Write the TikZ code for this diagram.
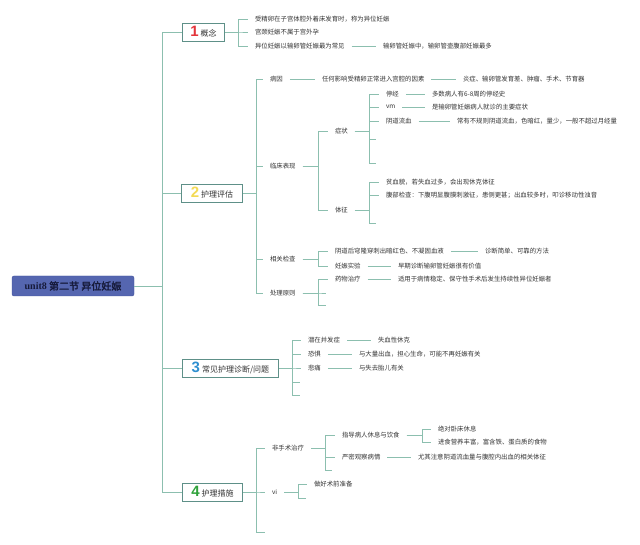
\documentclass[tikz,border=0pt]{standalone}
\usepackage{fontspec}
\setmainfont{Noto Sans CJK SC}[AutoFakeBold=2]
\newfontfamily\numfont{Liberation Sans}
\newfontfamily\rootlat{Liberation Serif}
\definecolor{lc}{HTML}{8CBFAF}
\definecolor{bc}{HTML}{5E9088}
\definecolor{tc}{HTML}{333333}
\definecolor{rootfill}{HTML}{5566B0}
\definecolor{rootdraw}{HTML}{3F4F9A}
\definecolor{roottext}{HTML}{161A3A}
\definecolor{numA}{HTML}{E3353B}
\definecolor{numB}{HTML}{F3DA55}
\definecolor{numC}{HTML}{2E8FD0}
\definecolor{numD}{HTML}{2FA23A}
\begin{document}
\begin{tikzpicture}[x=1pt,y=-1pt,
  conn/.style={draw=lc, line width=0.8pt},
  brk/.style={to path={-- (\tikztostart -| #1) |- (\tikztotarget)}},
  leaf/.style={anchor=west, inner sep=0pt, outer xsep=7pt, outer ysep=0pt, text=tc, font=\fontsize{6.4}{7}\selectfont},
  sec/.style={draw=bc, line width=0.9pt, fill=white, anchor=west, minimum height=18pt, inner xsep=4pt, inner ysep=0pt, text=tc, font=\fontsize{8}{9}\selectfont},
  num/.style={}]
\useasboundingbox (0,0) rectangle (640,545);

% bracket columns
\coordinate (t0) at (162,0);
\coordinate (b1) at (238,0);
\coordinate (b2) at (256,0);
\coordinate (b2a) at (318,0);
\coordinate (b2b) at (369,0);
\coordinate (b3) at (292,0);
\coordinate (b4a) at (325,0);
\coordinate (b4b) at (422,0);
\coordinate (b4c) at (298,0);

% root
\node[draw=rootdraw, fill=rootfill, rounded corners=2pt, minimum width=122pt, minimum height=20pt, inner sep=0pt, text=roottext, font=\fontsize{10}{11}\selectfont] (root) at (73,286) {{\rootlat\bfseries unit8} {\bfseries 第二节 异位妊娠}};

% sections
\node[sec, minimum width=42pt] (s1) at (182,32) {{\numfont\bfseries\fontsize{15}{15}\selectfont\color{numA}1}\kern2pt 概念};
\node[sec, minimum width=61pt] (s2) at (181,193) {{\numfont\bfseries\fontsize{15}{15}\selectfont\color{numB}2}\kern2pt 护理评估};
\node[sec, minimum width=96pt] (s3) at (182,368) {{\numfont\bfseries\fontsize{15}{15}\selectfont\color{numC}3}\kern2pt 常见护理诊断/问题};
\node[sec, minimum width=60pt] (s4) at (182,492) {{\numfont\bfseries\fontsize{15}{15}\selectfont\color{numD}4}\kern2pt 护理措施};

\draw[conn] (root.east) to[brk=t0] (s1.west);
\draw[conn] (root.east) to[brk=t0] (s2.west);
\draw[conn] (root.east) to[brk=t0] (s3.west);
\draw[conn] (root.east) to[brk=t0] (s4.west);

% ---- section 1
\node[leaf] (a1) at (248,19) {受精卵在子宫体腔外着床发育时，称为异位妊娠};
\node[leaf] (a2) at (248,32) {宫颈妊娠不属于宫外孕};
\node[leaf] (a3) at (248,46) {异位妊娠以输卵管妊娠最为常见};
\node[leaf] (a3x) at (376,46) {输卵管妊娠中，输卵管壶腹部妊娠最多};
\draw[conn] (s1.east) to[brk=b1] (a1.west);
\draw[conn] (s1.east) to[brk=b1] (a2.west);
\draw[conn] (s1.east) to[brk=b1] (a3.west);
\draw[conn] (a3.east) -- (a3x.west);

% ---- section 2
\node[leaf] (c1) at (263,79) {病因};
\node[leaf] (c2) at (263,166) {临床表现};
\node[leaf] (c3) at (263,259) {相关检查};
\node[leaf] (c4) at (263,293) {处理原则};
\draw[conn] (s2.east) to[brk=b2] (c1.west);
\draw[conn] (s2.east) to[brk=b2] (c2.west);
\draw[conn] (s2.east) to[brk=b2] (c3.west);
\draw[conn] (s2.east) to[brk=b2] (c4.west);

\node[leaf] (c1a) at (315,79) {任何影响受精卵正常进入宫腔的因素};
\node[leaf] (c1b) at (456,79) {炎症、输卵管发育差、肿瘤、手术、节育器};
\draw[conn] (c1.east) -- (c1a.west);
\draw[conn] (c1a.east) -- (c1b.west);

% clinical
\node[leaf] (d1) at (328,131) {症状};
\node[leaf] (d2) at (328,210) {体征};
\draw[conn] (c2.east) to[brk=b2a] (d1.west);
\draw[conn] (c2.east) to[brk=b2a] (d2.west);

\node[leaf] (e1) at (379,94) {停经};
\node[leaf] (e2) at (379,107) {vm};
\node[leaf] (e3) at (379,121) {阴道流血};
\coordinate (e4) at (376,139);
\coordinate (e5) at (376,163);
\draw[conn] (d1.east) to[brk=b2b] (e1.west);
\draw[conn] (d1.east) to[brk=b2b] (e2.west);
\draw[conn] (d1.east) to[brk=b2b] (e3.west);
\draw[conn] (d1.east) to[brk=b2b] (e4);
\draw[conn] (d1.east) to[brk=b2b] (e5);
\node[leaf] (e1a) at (425,94) {多数病人有6-8周的停经史};
\node[leaf] (e2a) at (425,107) {是输卵管妊娠病人就诊的主要症状};
\node[leaf] (e3a) at (450,121) {常有不规则阴道流血，色暗红，量少，一般不超过月经量};
\draw[conn] (e1.east) -- (e1a.west);
\draw[conn] (e2.east) -- (e2a.west);
\draw[conn] (e3.east) -- (e3a.west);

\node[leaf] (f1) at (379,182) {贫血貌，若失血过多，会出现休克体征};
\node[leaf] (f2) at (379,195) {腹部检查：下腹明显腹膜刺激征，患侧更甚；出血较多时，叩诊移动性浊音};
\coordinate (f3) at (376,223);
\draw[conn] (d2.east) to[brk=b2b] (f1.west);
\draw[conn] (d2.east) to[brk=b2b] (f2.west);
\draw[conn] (d2.east) to[brk=b2b] (f3);

% tests
\node[leaf] (g1) at (328,251) {阴道后穹隆穿刺出暗红色、不凝固血液};
\node[leaf] (g2) at (328,266) {妊娠实验};
\draw[conn] (c3.east) to[brk=b2a] (g1.west);
\draw[conn] (c3.east) to[brk=b2a] (g2.west);
\node[leaf] (g1a) at (478,251) {诊断简单、可靠的方法};
\node[leaf] (g2a) at (391,266) {早期诊断输卵管妊娠很有价值};
\draw[conn] (g1.east) -- (g1a.west);
\draw[conn] (g2.east) -- (g2a.west);

% treatment principle
\node[leaf] (h1) at (328,279) {药物治疗};
\coordinate (h2) at (326,293);
\coordinate (h3) at (326,305);
\draw[conn] (c4.east) to[brk=b2a] (h1.west);
\draw[conn] (c4.east) to[brk=b2a] (h2);
\draw[conn] (c4.east) to[brk=b2a] (h3);
\node[leaf] (h1a) at (391,279) {适用于病情稳定、保守性手术后发生持续性异位妊娠者};
\draw[conn] (h1.east) -- (h1a.west);

% ---- section 3
\node[leaf] (k1) at (301,340) {潜在并发症};
\node[leaf] (k2) at (301,354) {恐惧};
\node[leaf] (k3) at (301,368) {悲痛};
\coordinate (k4) at (300,382);
\coordinate (k5) at (300,395);
\draw[conn] (s3.east) to[brk=b3] (k1.west);
\draw[conn] (s3.east) to[brk=b3] (k2.west);
\draw[conn] (s3.east) to[brk=b3] (k3.west);
\draw[conn] (s3.east) to[brk=b3] (k4);
\draw[conn] (s3.east) to[brk=b3] (k5);
\node[leaf] (k1a) at (371,340) {失血性休克};
\node[leaf] (k2a) at (352,354) {与大量出血，担心生命，可能不再妊娠有关};
\node[leaf] (k3a) at (352,368) {与失去胎儿有关};
\draw[conn] (k1.east) -- (k1a.west);
\draw[conn] (k2.east) -- (k2a.west);
\draw[conn] (k3.east) -- (k3a.west);

% ---- section 4
\node[leaf] (m1) at (265,448) {非手术治疗};
\node[leaf] (m2) at (265,492) {vi};
\coordinate (m3) at (265,532);
\draw[conn] (s4.east) to[brk=b2] (m1.west);
\draw[conn] (s4.east) to[brk=b2] (m2.west);
\draw[conn] (s4.east) to[brk=b2] (m3);

\node[leaf] (n1) at (335,435) {指导病人休息与饮食};
\node[leaf] (n2) at (335,457) {严密观察病情};
\coordinate (n3) at (332,470);
\draw[conn] (m1.east) to[brk=b4a] (n1.west);
\draw[conn] (m1.east) to[brk=b4a] (n2.west);
\draw[conn] (m1.east) to[brk=b4a] (n3);

\node[leaf] (p1) at (431,429) {绝对卧床休息};
\node[leaf] (p2) at (431,442) {进食营养丰富，富含铁、蛋白质的食物};
\draw[conn] (n1.east) to[brk=b4b] (p1.west);
\draw[conn] (n1.east) to[brk=b4b] (p2.west);

\node[leaf] (n2a) at (411,457) {尤其注意阴道流血量与腹腔内出血的相关体征};
\draw[conn] (n2.east) -- (n2a.west);

\node[leaf] (q1) at (307,484) {做好术前准备};
\coordinate (q2) at (306,498);
\draw[conn] (m2.east) to[brk=b4c] (q1.west);
\draw[conn] (m2.east) to[brk=b4c] (q2);
\end{tikzpicture}
\end{document}
